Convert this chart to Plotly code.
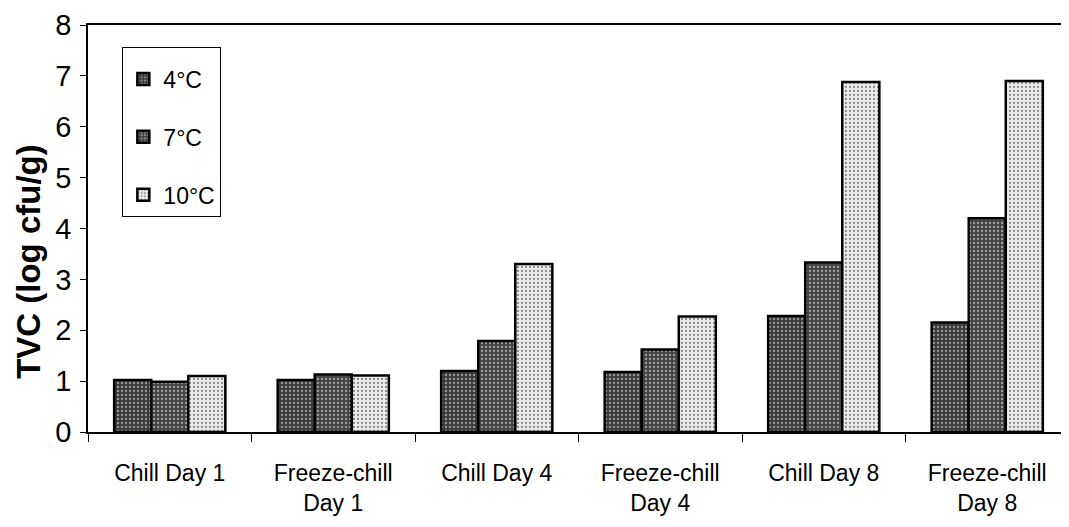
import plotly.graph_objects as go

categories = ["Chill Day 1", "Freeze-chill<br>Day 1", "Chill Day 4",
              "Freeze-chill<br>Day 4", "Chill Day 8", "Freeze-chill<br>Day 8"]
series_names = ["4°C", "7°C", "10°C"]
values_4c = [1.02, 1.02, 1.20, 1.18, 2.28, 2.15]
values_7c = [0.99, 1.13, 1.79, 1.62, 3.33, 4.20]
values_10c = [1.10, 1.11, 3.30, 2.27, 6.88, 6.90]
y_ticks = [0, 1, 2, 3, 4, 5, 6, 7, 8]
y_title = "TVC (log cfu/g)"

styles = [
    dict(bg="#3c3c3c", fg="#9a9a9a"),
    dict(bg="#444444", fg="#a0a0a0"),
    dict(bg="#ececec", fg="#8a8a8a"),
]

fig = go.Figure()
for name, vals, st in zip(series_names, [values_4c, values_7c, values_10c], styles):
    fig.add_trace(go.Bar(
        x=categories, y=vals, name=name, legendgroup=name,
        marker=dict(
            color=st["bg"],
            line=dict(color="black", width=2.5),
            pattern=dict(shape=".", fgcolor=st["fg"], bgcolor=st["bg"],
                         size=4, solidity=0.25, fillmode="replace"),
        ),
    ))

font_main = "Liberation Sans, Arial, sans-serif"
fig.update_layout(
    width=1069, height=527,
    margin=dict(l=80, r=8, t=17, b=103, autoexpand=False),
    paper_bgcolor="white", plot_bgcolor="white",
    barmode="group", bargap=0.32, bargroupgap=0,
    font=dict(family=font_main, color="black"),
    legend=dict(
        x=0.035, y=0.945, xanchor="left", yanchor="top",
        bordercolor="black", borderwidth=1, bgcolor="white",
        font=dict(size=23, family=font_main),
        title=dict(text=" ", font=dict(size=7)),
        traceorder="grouped", tracegroupgap=25, itemwidth=30,
    ),
    xaxis=dict(
        showline=True, linecolor="black", linewidth=1.5, mirror=True,
        ticks="outside", tickson="boundaries", ticklen=8, tickcolor="black",
        tickfont=dict(size=23, family=font_main),
        ticklabelstandoff=20, automargin=False,
    ),
    yaxis=dict(
        range=[0, 8], tickvals=y_ticks,
        showline=True, linecolor="black", linewidth=1.5,
        ticks="outside", ticklen=6, tickcolor="black",
        showgrid=False, zeroline=False, automargin=False,
        tickfont=dict(size=29, family=font_main),
        ticklabelstandoff=3,
    ),
    annotations=[dict(
        text="<b>" + y_title + "</b>", textangle=-90,
        xref="paper", yref="paper", x=0, y=0.418,
        xshift=-59, xanchor="center", yanchor="middle",
        showarrow=False, font=dict(size=33, family=font_main),
    )],
)

fig.write_html("out.html")
